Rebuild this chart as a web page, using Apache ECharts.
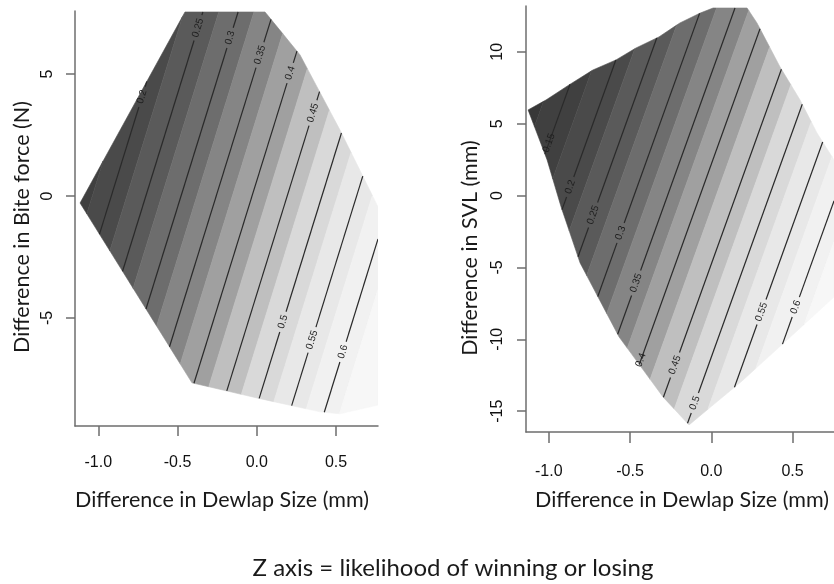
<!DOCTYPE html>
<html><head><meta charset="utf-8">
<script src="https://cdn.jsdelivr.net/npm/echarts@6/dist/echarts.min.js"></script>
<style>html,body{margin:0;padding:0;background:#fff}#c{width:834px;height:584px}</style>
</head><body><div id="c"></div>
<script>
// ---------- DATA ----------
const xTickValues = [-1.0, -0.5, 0.0, 0.5];
const leftYTickValues = [-5, 0, 5];
const rightYTickValues = [-15, -10, -5, 0, 5, 10];

// Left panel: Dewlap size (x) vs Bite force (y)
const leftLevels = [0.2, 0.25, 0.3, 0.35, 0.4, 0.45, 0.5, 0.55, 0.6];
const leftLineYTop = 8, leftLineYBot = -10;
const leftLineXTop = [-0.536, -0.318, -0.096, 0.126, 0.352, 0.574, 0.793, 1.012, 1.231];
const leftLineXBot = [-1.395, -1.177, -0.955, -0.733, -0.507, -0.285, -0.066, 0.153, 0.372];
const leftLabelY = [4.06, 6.89, 6.48, 5.78, 5.04, 3.40, -5.16, -5.90, -6.39];
const leftHullX = [-0.453, 0.052, 0.273, 0.525, 0.765, 0.765, 0.525, 0.399, 0.001, -0.409, -1.115];
const leftHullY = [7.54, 7.54, 5.78, 2.70, -0.45, -8.57, -8.93, -8.85, -8.28, -7.66, -0.29];

// Right panel: Dewlap size (x) vs SVL (y)
const rightLevels = [0.15, 0.2, 0.25, 0.3, 0.35, 0.4, 0.45, 0.5, 0.55, 0.6];
const rightLineYTop = 14, rightLineYBot = -17;
const rightLineXTop = [-0.670, -0.442, -0.239, -0.030, 0.176, 0.376, 0.597, 0.803, 1.012, 1.212];
const rightLineXBot = [-1.656, -1.428, -1.225, -1.016, -0.810, -0.610, -0.389, -0.183, 0.026, 0.226];
const rightLabelY = [3.66, 0.60, -1.35, -2.60, -6.08, -11.44, -11.79, -14.43, -8.10, -7.76];
const rightHullX = [-1.127, -1.017, -0.875, -0.728, -0.586, -0.463, -0.322, -0.193, -0.068, 0.011, 0.220, 0.281, 0.423, 0.546, 0.650, 0.755, 0.755, 0.527, 0.189, -0.137, -0.297, -0.567, -0.807, -0.924, -1.010];
const rightHullY = [5.96, 6.65, 7.70, 8.74, 9.44, 10.27, 11.04, 12.01, 12.70, 13.05, 13.05, 12.01, 8.95, 6.65, 4.36, 2.48, -7.05, -9.42, -12.90, -15.96, -14.01, -9.84, -4.69, -0.79, 2.48];

// ---------- STYLE ----------
// grey shade for the band that holds level 0.10, 0.15, ... 0.65
const shadeStart = 0.1;
const shades = ['#383838', '#404040', '#4a4a4a', '#5a5a5a', '#6d6d6d', '#858585', '#a0a0a0', '#bfbfbf', '#d9d9d9', '#e8e8e8', '#f1f1f1', '#f7f7f7'];
const bandShift = 0.45;   // colour steps sit part-way between two contour lines
const lineColor = '#2a2a2a';
const axisColor = '#6e6e6e';

function clipHalf(poly, q, p, keepLeft) {
  const out = [];
  const sg = keepLeft ? 1 : -1;
  const s = pt => sg * ((p[0] - q[0]) * (pt[1] - q[1]) - (p[1] - q[1]) * (pt[0] - q[0]));
  for (let i = 0; i < poly.length; i++) {
    const a = poly[i], b = poly[(i + 1) % poly.length];
    const sa = s(a), sb = s(b);
    if (sa >= 0) out.push(a);
    if ((sa >= 0) !== (sb >= 0)) {
      const t = sa / (sa - sb);
      out.push([a[0] + t * (b[0] - a[0]), a[1] + t * (b[1] - a[1])]);
    }
  }
  return out;
}
function inside(pt, poly) {
  let c = false;
  for (let i = 0, j = poly.length - 1; i < poly.length; j = i++) {
    const a = poly[i], b = poly[j];
    if ((a[1] > pt[1]) !== (b[1] > pt[1]) &&
        pt[0] < (b[0] - a[0]) * (pt[1] - a[1]) / (b[1] - a[1]) + a[0]) c = !c;
  }
  return c;
}
function segIntervals(q, p, poly) {
  const ts = [0, 1];
  const dx = p[0] - q[0], dy = p[1] - q[1];
  for (let i = 0; i < poly.length; i++) {
    const a = poly[i], b = poly[(i + 1) % poly.length];
    const ex = b[0] - a[0], ey = b[1] - a[1];
    const den = dx * ey - dy * ex;
    if (Math.abs(den) < 1e-12) continue;
    const t = ((a[0] - q[0]) * ey - (a[1] - q[1]) * ex) / den;
    const u = ((a[0] - q[0]) * dy - (a[1] - q[1]) * dx) / den;
    if (t > 0 && t < 1 && u >= 0 && u <= 1) ts.push(t);
  }
  ts.sort((a, b) => a - b);
  const res = [];
  for (let i = 0; i < ts.length - 1; i++) {
    const m = (ts[i] + ts[i + 1]) / 2;
    if (inside([q[0] + m * dx, q[1] + m * dy], poly)) res.push([ts[i], ts[i + 1]]);
  }
  return res;
}

function makePanel(idx, levels, xTop, xBot, yTop, yBot, labelY, hullX, hullY) {
  const n = levels.length;
  const hull = hullX.map((x, i) => [x, hullY[i]]);
  const lx = (arr, k) => {
    if (k < 0) return arr[0] - (arr[1] - arr[0]);
    if (k >= n) return arr[n - 1] + (arr[n - 1] - arr[n - 2]);
    return arr[k];
  };
  const bq = j => [lx(xBot, j) + bandShift * (lx(xBot, j + 1) - lx(xBot, j)), yBot];
  const bp = j => [lx(xTop, j) + bandShift * (lx(xTop, j + 1) - lx(xTop, j)), yTop];
  const base = Math.round((levels[0] - shadeStart) / 0.05);
  const bands = [];
  for (let k = -1; k <= n; k++) bands.push(k);

  const bandSeries = {
    type: 'custom', coordinateSystem: 'cartesian2d', xAxisIndex: idx, yAxisIndex: idx,
    clip: true, silent: true, z: 1,
    data: bands.map(k => [0, 0, k]),
    renderItem: (params, api) => {
      const k = api.value(2);
      let poly = hull;
      if (k - 1 >= -1) poly = clipHalf(poly, bq(k - 1), bp(k - 1), false);
      if (k <= n - 1) poly = clipHalf(poly, bq(k), bp(k), true);
      if (poly.length < 3) return null;
      const col = shades[Math.max(0, Math.min(shades.length - 1, base + k))];
      return { type: 'polygon', shape: { points: poly.map(pt => api.coord(pt)) },
               style: { fill: col, stroke: col, lineWidth: 0.6 } };
    }
  };

  const lineSeries = {
    type: 'custom', coordinateSystem: 'cartesian2d', xAxisIndex: idx, yAxisIndex: idx,
    clip: true, silent: true, z: 2,
    data: levels.map((lv, i) => [0, 0, i]),
    renderItem: (params, api) => {
      const i = api.value(2);
      const q = [xBot[i], yBot], p = [xTop[i], yTop];
      const Q = api.coord(q), P = api.coord(p);
      const pixLen = Math.hypot(P[0] - Q[0], P[1] - Q[1]);
      const txt = String(levels[i]);
      const gapHalf = (txt.length * 5.4 + 5) / 2;
      const tl = (labelY[i] - yBot) / (yTop - yBot);
      const dt = gapHalf / pixLen;
      const children = [];
      segIntervals(q, p, hull).forEach(([t0, t1]) => {
        const parts = [];
        if (tl - dt > t0 && tl + dt < t1) { parts.push([t0, tl - dt]); parts.push([tl + dt, t1]); }
        else parts.push([t0, t1]);
        parts.forEach(([a, b]) => {
          if (b - a <= 0) return;
          children.push({ type: 'line',
            shape: { x1: Q[0] + a * (P[0] - Q[0]), y1: Q[1] + a * (P[1] - Q[1]),
                     x2: Q[0] + b * (P[0] - Q[0]), y2: Q[1] + b * (P[1] - Q[1]) },
            style: { stroke: lineColor, lineWidth: 1.2 } });
        });
      });
      const L = [Q[0] + tl * (P[0] - Q[0]), Q[1] + tl * (P[1] - Q[1])];
      const ang = Math.atan2(Q[1] - P[1], P[0] - Q[0]);
      children.push({ type: 'text', x: L[0], y: L[1], rotation: ang,
        style: { text: txt, x: 0, y: 0, fill: '#1e1e1e', fontSize: 10, fontFamily: 'Liberation Sans',
                 align: 'center', verticalAlign: 'middle' } });
      return { type: 'group', children };
    }
  };
  return [bandSeries, lineSeries];
}

function xAxisCfg(idx, min, max, tickLen, margin) {
  return {
    type: 'value', gridIndex: idx, min, max,
    splitLine: { show: false },
    axisLine: { show: true, onZero: false, lineStyle: { color: axisColor, width: 1.5 } },
    axisTick: { show: true, customValues: xTickValues, length: tickLen, lineStyle: { color: axisColor, width: 1.5 } },
    axisLabel: { customValues: xTickValues, margin, formatter: v => v.toFixed(1),
                 color: '#111', fontSize: 16, fontFamily: 'Liberation Sans' }
  };
}
function yAxisCfg(idx, min, max, ticks, margin) {
  return {
    type: 'value', gridIndex: idx, min, max,
    splitLine: { show: false },
    axisLine: { show: true, onZero: false, lineStyle: { color: axisColor, width: 1.5 } },
    axisTick: { show: true, customValues: ticks, length: 9, lineStyle: { color: axisColor, width: 1.5 } },
    axisLabel: { customValues: ticks, margin, rotate: 90, align: 'center', verticalAlign: 'middle',
                 formatter: v => String(v), color: '#111', fontSize: 16, fontFamily: 'Liberation Sans' }
  };
}

const titleFont = 'Lato';
function title(text, x, y, rot, size) {
  return { type: 'text', x, y, rotation: rot || 0,
    style: { text, x: 0, y: 0, fill: '#1a1a1a', font: (size || 21.5) + 'px ' + titleFont,
             align: 'center', verticalAlign: 'middle', textAlign: 'center', textVerticalAlign: 'middle' } };
}

const chart = echarts.init(document.getElementById('c'), null, { renderer: 'canvas' });
chart.setOption({
  animation: false,
  backgroundColor: '#ffffff',
  grid: [
    { left: 75, top: 11, width: 303, height: 415, outerBoundsMode: 'none' },
    { left: 526, top: 6, width: 308, height: 426, outerBoundsMode: 'none' }
  ],
  xAxis: [xAxisCfg(0, -1.147, 0.765, 10, 29), xAxisCfg(1, -1.140, 0.755, 11, 32)],
  yAxis: [yAxisCfg(0, -9.43, 7.58, leftYTickValues, 27), yAxisCfg(1, -16.45, 13.19, rightYTickValues, 28)],
  series: [
    ...makePanel(0, leftLevels, leftLineXTop, leftLineXBot, leftLineYTop, leftLineYBot, leftLabelY, leftHullX, leftHullY),
    ...makePanel(1, rightLevels, rightLineXTop, rightLineXBot, rightLineYTop, rightLineYBot, rightLabelY, rightHullX, rightHullY)
  ],
  graphic: [
    title('Difference in Dewlap Size (mm)', 222, 500),
    title('Difference in Dewlap Size (mm)', 682, 500),
    title('Difference in Bite force (N)', 22, 227, Math.PI / 2),
    title('Difference in SVL (mm)', 470, 248, Math.PI / 2),
    title('Z axis = likelihood of winning or losing', 453, 568, 0, 24)
  ]
});
</script></body></html>
